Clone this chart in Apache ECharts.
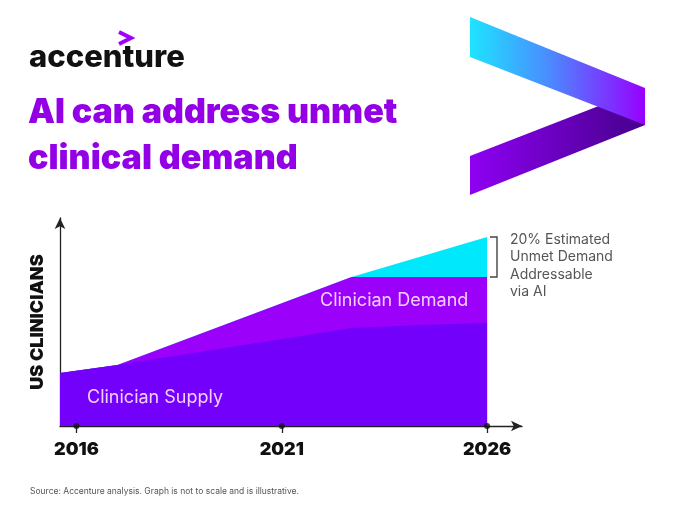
<html>
<head>
    <meta charset="utf-8">
    <title>AI can address unmet clinical demand</title>
    <script src="https://cdn.jsdelivr.net/npm/echarts@6/dist/echarts.min.js"></script>
    <style>
        html, body { margin: 0; padding: 0; background: #fff; }
        #main { width: 680px; height: 521px; }
    </style>
</head>
<body>
    <div id="main"></div>
    <script type="text/javascript">
        // values (arbitrary units, graph is illustrative)
        var tickYears = [2016, 2021, 2026];
        var supplyYears = [2015.6, 2017, 2019, 2021, 2022.7, 2024.4, 2026];
        var supplyValues = [53, 61, 74, 87, 98, 101, 103];
        var demandYears = [2015.6, 2017, 2022.7, 2026];
        var demandValues = [53, 61, 149, 149];
        var unmetYears = [2015.6, 2017, 2022.7, 2026];
        var unmetValues = [53, 61, 149, 189];
        var noteLines = ['20% Estimated', 'Unmet Demand', 'Addressable', 'via AI'];

        function pairs(xs, ys) {
            return xs.map(function (x, i) { return [x, ys[i]]; });
        }

        var font = 'Inter, Roboto, "Noto Sans", sans-serif';
        var myChart = echarts.init(document.getElementById('main'));

        function areaSeries(name, xs, ys, color) {
            return {
                name: name,
                type: 'line',
                data: pairs(xs, ys),
                symbol: 'none',
                silent: true,
                lineStyle: { width: 0 },
                areaStyle: { color: color, opacity: 1, origin: 'start' }
            };
        }

        var option = {
            animation: false,
            grid: { left: 60, right: 158, top: 218, bottom: 95 },
            xAxis: {
                type: 'value',
                min: 2015.6,
                max: 2026.85,
                splitLine: { show: false },
                axisLine: {
                    lineStyle: { color: '#222', width: 1.3 },
                    symbol: ['none', 'arrow'],
                    symbolSize: [8, 11]
                },
                axisTick: {
                    customValues: tickYears,
                    length: 7,
                    lineStyle: { color: '#222', width: 1.3 }
                },
                axisLabel: {
                    customValues: tickYears,
                    margin: 15,
                    color: '#111',
                    fontFamily: font,
                    fontWeight: 900,
                    fontSize: 18,
                    formatter: function (v) { return String(v); }
                }
            },
            yAxis: {
                type: 'value',
                min: 0,
                max: 208,
                name: 'US CLINICIANS',
                nameLocation: 'middle',
                nameGap: 13,
                nameTextStyle: {
                    color: '#111',
                    fontFamily: font,
                    fontWeight: 900,
                    fontSize: 18
                },
                splitLine: { show: false },
                axisTick: { show: false },
                axisLabel: { show: false },
                axisLine: {
                    show: true,
                    lineStyle: { color: '#222', width: 1.3 },
                    symbol: ['none', 'arrow'],
                    symbolSize: [8, 11]
                }
            },
            series: [
                areaSeries('Unmet Demand Addressable via AI', unmetYears, unmetValues, '#00e8fb'),
                areaSeries('Clinician Demand', demandYears, demandValues, '#9b00fb'),
                areaSeries('Clinician Supply', supplyYears, supplyValues, '#7300fb'),
                {
                    type: 'scatter',
                    data: tickYears.map(function (y) { return [y, 0]; }),
                    symbolSize: 6,
                    itemStyle: { color: '#111' },
                    clip: false,
                    silent: true,
                    z: 5
                }
            ],
            graphic: [
                // accenture wordmark
                {
                    type: 'text', left: 29, top: 42,
                    style: { text: 'accenture', font: '800 31px ' + font, fill: '#111' }
                },
                {
                    type: 'polyline',
                    shape: { points: [[119, 32], [131, 38], [119, 44]] },
                    style: { stroke: '#a100ff', lineWidth: 4, fill: null }
                },
                // headline
                {
                    type: 'text', left: 28, top: 90,
                    style: {
                        text: 'AI can address unmet\nclinical demand',
                        font: '900 34px ' + font,
                        fill: '#9400e6',
                        lineHeight: 46
                    }
                },
                // big greater-than mark
                {
                    type: 'polygon',
                    shape: { points: [[470, 156], [645, 88], [645, 125], [470, 195]] },
                    style: {
                        fill: new echarts.graphic.LinearGradient(0, 0, 1, 0, [
                            { offset: 0, color: '#8e00f2' },
                            { offset: 1, color: '#46008c' }
                        ])
                    }
                },
                {
                    type: 'polygon',
                    shape: { points: [[470, 17], [645, 88], [645, 125], [470, 57]] },
                    style: {
                        fill: new echarts.graphic.LinearGradient(0, 0, 1, 0, [
                            { offset: 0, color: '#1ee4ff' },
                            { offset: 0.45, color: '#4a8cff' },
                            { offset: 1, color: '#9800ff' }
                        ])
                    }
                },
                // area labels
                {
                    type: 'text', left: 320, top: 292, z: 10,
                    style: { text: 'Clinician Demand', font: '18px ' + font, fill: '#f3cfff' }
                },
                {
                    type: 'text', left: 87, top: 389, z: 10,
                    style: { text: 'Clinician Supply', font: '18px ' + font, fill: '#f3cfff' }
                },
                // bracket and note
                {
                    type: 'polyline', z: 10,
                    shape: { points: [[490, 237], [497, 237], [497, 277], [490, 277]] },
                    style: { stroke: '#444', lineWidth: 1.4, fill: null }
                },
                {
                    type: 'text', left: 510, top: 231,
                    style: {
                        text: noteLines.join('\n'),
                        font: '14px ' + font,
                        fill: '#555',
                        lineHeight: 17.5
                    }
                },
                {
                    type: 'text', left: 30, top: 487,
                    style: {
                        text: 'Source: Accenture analysis. Graph is not to scale and is illustrative.',
                        font: '8.5px ' + font,
                        fill: '#555'
                    }
                }
            ]
        };
        myChart.setOption(option);
    </script>
</body>
</html>
